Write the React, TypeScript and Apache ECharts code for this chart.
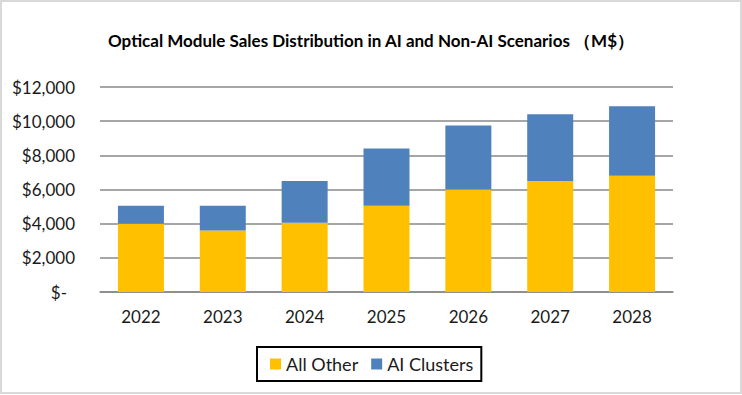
import React, { useEffect, useRef } from "react";
import * as echarts from "echarts";

const years = ["2022", "2023", "2024", "2025", "2026", "2027", "2028"];
const allOther = [4000, 3600, 4050, 5050, 6000, 6500, 6800];
const aiClusters = [1050, 1450, 2450, 3350, 3750, 3900, 4070];
const titleText = "Optical Module Sales Distribution in AI and Non-AI Scenarios \uFF08M$\uFF09";

export default function App() {
  const ref = useRef<HTMLDivElement>(null);
  useEffect(() => {
    document.body.style.margin = "0";
    const chart = echarts.init(ref.current!, undefined, { renderer: "svg" });
    const font = "Lato, 'Open Sans', sans-serif";
    const textColor = "#1a1a1a";
    chart.setOption({
      animation: false,
      backgroundColor: "#ffffff",
      title: {
        text: titleText,
        left: "center",
        top: 27,
        textStyle: { fontFamily: font, fontSize: 17, fontWeight: "bold", color: "#000" },
      },
      graphic: [
        {
          type: "rect",
          shape: { x: 1, y: 1, width: 740, height: 392 },
          style: { fill: "none", stroke: "#d9d9d9", lineWidth: 2 },
          silent: true,
        },
      ],
      legend: {
        top: 347,
        left: 257,
        icon: "rect",
        itemWidth: 11,
        itemHeight: 11,
        itemGap: 13,
        borderColor: "#000",
        borderWidth: 2,
        borderRadius: 0,
        padding: [8, 8, 8, 13],
        textStyle: { fontFamily: font, fontSize: 18, color: textColor },
        data: ["All Other", "AI Clusters"],
      },
      grid: { left: 100, right: 69, top: 87, bottom: 103, containLabel: false },
      xAxis: {
        type: "category",
        data: years,
        axisLine: { lineStyle: { color: "#888", width: 1.5 } },
        axisTick: { show: false },
        axisLabel: { fontFamily: font, fontSize: 17, color: textColor, margin: 16 },
      },
      yAxis: {
        type: "value",
        min: 0,
        max: 12000,
        interval: 2000,
        axisLine: { show: false },
        axisTick: { show: false },
        splitLine: { lineStyle: { color: "#888", width: 1.5 } },
        axisLabel: {
          fontFamily: font,
          fontSize: 17,
          color: textColor,
          margin: 25,
          formatter: (v: number) =>
            v === 0 ? "{z|$-}" : "$" + v.toLocaleString("en-US"),
          rich: { z: { fontFamily: font, fontSize: 17, color: textColor, padding: [0, 8, 0, 0] } },
        },
      },
      series: [
        {
          name: "All Other",
          type: "bar",
          stack: "total",
          data: allOther,
          barWidth: 46,
          itemStyle: { color: "#FFC000" },
        },
        {
          name: "AI Clusters",
          type: "bar",
          stack: "total",
          data: aiClusters,
          barWidth: 46,
          itemStyle: { color: "#4F81BD" },
        },
      ],
    });
    return () => chart.dispose();
  }, []);
  return <div ref={ref} style={{ width: 742, height: 395 }} />;
}
